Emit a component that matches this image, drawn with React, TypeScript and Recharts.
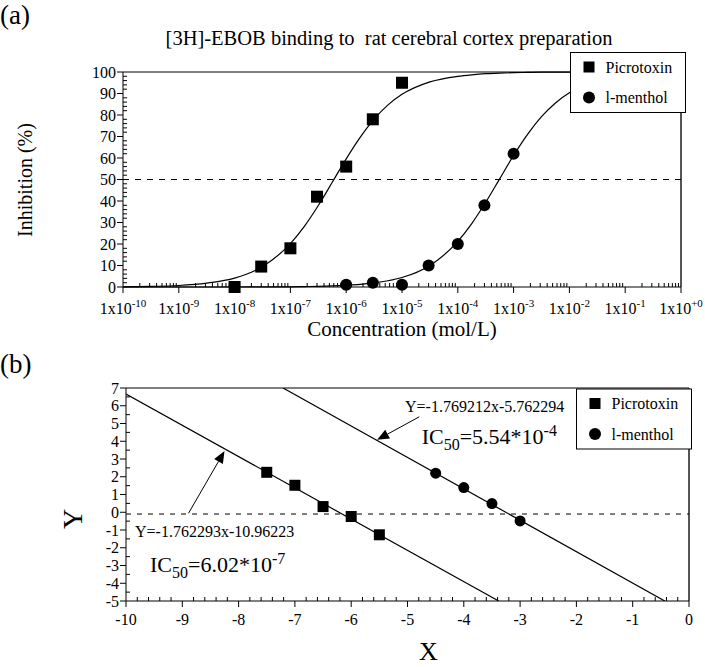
import React from "react";
import { ComposedChart, Line, Scatter, XAxis, YAxis, ReferenceLine } from "recharts";

const FONT = '"Liberation Serif", "Times New Roman", serif';

// (a) inhibition vs concentration
const picroConc = [1e-8, 3e-8, 1e-7, 3e-7, 1e-6, 3e-6, 1e-5];
const picroInh = [0, 9.5, 18, 42, 56, 78, 95];
const mentholConc = [1e-6, 3e-6, 1e-5, 3e-5, 1e-4, 3e-4, 1e-3];
const mentholInh = [1, 2, 1, 10, 20, 38, 62];

// fitted curves, read at these log10(concentration) positions
const curveExp = [-10, -9.5, -9, -8.5, -8, -7.5, -7, -6.75, -6.5, -6.25, -6, -5.75, -5.5, -5.25, -5, -4.5, -4, -3.75, -3.5, -3.25, -3, -2.75, -2.5, -2.25, -2, -1.5, -1, -0.5, 0];
const picroCurve = [0.1, 0.3, 0.7, 1.8, 4.1, 9.5, 20.2, 28.2, 37.9, 48.7, 59.6, 69.6, 78.1, 84.7, 89.6, 95.4, 98.0, 98.7, 99.2, 99.5, 99.7, 99.8, 99.9, 99.9, 99.9, 100, 100, 100, 100];
const mentholCurve = [0, 0, 0, 0, 0, 0.1, 0.1, 0.2, 0.3, 0.5, 0.8, 1.2, 1.9, 2.9, 4.4, 10.0, 21.2, 29.5, 39.4, 50.3, 61.2, 71.0, 79.2, 85.6, 90.3, 95.7, 98.2, 99.2, 99.7];

const concExpTicks = [-10, -9, -8, -7, -6, -5, -4, -3, -2, -1, 0];
const inhTicks = [0, 10, 20, 30, 40, 50, 60, 70, 80, 90, 100];

// (b) linearised plot
const picroX = [-7.5, -7, -6.5, -6, -5.5];
const picroY = [2.25, 1.52, 0.32, -0.24, -1.27];
const mentholX = [-4.5, -4, -3.5, -3];
const mentholY = [2.2, 1.39, 0.49, -0.49];
const picroFitX = [-10, -3.38];
const picroFitY = [6.66, -5];
const mentholFitX = [-7.21, -0.43];
const mentholFitY = [7, -5];
const bXTicks = [-10, -9, -8, -7, -6, -5, -4, -3, -2, -1, 0];
const bYTicks = [-5, -4, -3, -2, -1, 0, 1, 2, 3, 4, 5, 6, 7];

const zip = (xs: number[], ys: number[]) => xs.map((x, i) => ({ x, y: ys[i] }));

const picroPts = zip(picroConc, picroInh);
const mentholPts = zip(mentholConc, mentholInh);
const picroCurveData = zip(curveExp.map((e) => Math.pow(10, e)), picroCurve);
const mentholCurveData = zip(curveExp.map((e) => Math.pow(10, e)), mentholCurve);

const logMinor: number[] = [];
for (let e = -10; e < 0; e++) for (let k = 2; k <= 9; k++) logMinor.push(k * Math.pow(10, e));
const concTicks = [...concExpTicks.map((e) => Math.pow(10, e)), ...logMinor];

const inhMinor: number[] = [];
for (let v = 2; v < 100; v += 2) if (v % 10 !== 0) inhMinor.push(v);

const bXMinor: number[] = [];
for (let i = 0; i <= 50; i++) {
  const v = Math.round((-10 + i * 0.2) * 10) / 10;
  if (!Number.isInteger(v)) bXMinor.push(v);
}
const bYMinor = bYTicks.slice(0, -1).map((v) => v + 0.5);

const isInt = (v: number) => Math.abs(v - Math.round(v)) < 1e-6;

const LogTick = (props: any) => {
  const { x, y, payload } = props;
  const lg = Math.log10(payload.value);
  if (!isInt(lg)) return <line x1={x} x2={x} y1={y} y2={y - 4} stroke="#000" />;
  const e = Math.round(lg);
  return (
    <g>
      <line x1={x} x2={x} y1={y} y2={y + 6} stroke="#000" />
      <text x={x} y={y + 27} textAnchor="middle" fontSize={16} fontFamily={FONT} fill="#000">
        1x10<tspan fontSize={11} dy={-7}>{e === 0 ? "+0" : e}</tspan>
      </text>
    </g>
  );
};

const makeYTick = (major: (v: number) => boolean) => (props: any) => {
  const { x, y, payload } = props;
  if (!major(payload.value)) return <line x1={x} x2={x + 4} y1={y} y2={y} stroke="#000" />;
  return (
    <g>
      <line x1={x - 6} x2={x} y1={y} y2={y} stroke="#000" />
      <text x={x - 7} y={y} dy="0.35em" textAnchor="end" fontSize={16} fontFamily={FONT} fill="#000">
        {payload.value}
      </text>
    </g>
  );
};
const InhTick = makeYTick((v) => v % 10 === 0);
const BYTick = makeYTick(isInt);

const BXTick = (props: any) => {
  const { x, y, payload } = props;
  if (!isInt(payload.value)) return <line x1={x} x2={x} y1={y} y2={y - 4} stroke="#000" />;
  return (
    <g>
      <line x1={x} x2={x} y1={y} y2={y + 6} stroke="#000" />
      <text x={x} y={y + 24} textAnchor="middle" fontSize={16} fontFamily={FONT} fill="#000">
        {payload.value}
      </text>
    </g>
  );
};

const squareShape = (s: number) => (p: any) => <rect x={p.cx - s / 2} y={p.cy - s / 2} width={s} height={s} fill="#000" />;
const circleShape = (r: number) => (p: any) => <circle cx={p.cx} cy={p.cy} r={r} fill="#000" />;

const Arrow = (p: any) => {
  const { x1, y1, x2, y2 } = p;
  const a = Math.atan2(y2 - y1, x2 - x1);
  const L = 12;
  const W = 5;
  const bx = x2 - L * Math.cos(a);
  const by = y2 - L * Math.sin(a);
  const pts = `${x2},${y2} ${bx - W * Math.sin(a)},${by + W * Math.cos(a)} ${bx + W * Math.sin(a)},${by - W * Math.cos(a)}`;
  return (
    <g>
      <line x1={x1} y1={y1} x2={bx} y2={by} stroke="#000" strokeWidth={1} />
      <polygon points={pts} fill="#000" />
    </g>
  );
};

function PanelA() {
  return (
    <ComposedChart width={705} height={340} margin={{ top: 72, right: 24, left: 0, bottom: 0 }}>
      <XAxis
        dataKey="x"
        type="number"
        scale="log"
        domain={[1e-10, 1]}
        allowDataOverflow
        ticks={concTicks}
        interval={0}
        tick={LogTick}
        tickLine={false}
        tickSize={0}
        tickMargin={0}
        height={53}
        axisLine={{ stroke: "#000" }}
      />
      <YAxis
        dataKey="y"
        type="number"
        domain={[0, 100]}
        ticks={[...inhTicks, ...inhMinor]}
        interval={0}
        tick={InhTick}
        tickLine={false}
        tickSize={0}
        tickMargin={0}
        width={123}
        axisLine={{ stroke: "#000" }}
      />
      <ReferenceLine y={100} stroke="#000" />
      <ReferenceLine x={1} stroke="#555" strokeWidth={2} />
      <ReferenceLine y={50} stroke="#000" strokeDasharray="6 6" />
      <Line data={picroCurveData} dataKey="y" type="monotone" stroke="#000" strokeWidth={1.2} dot={false} activeDot={false} isAnimationActive={false} />
      <Line data={mentholCurveData} dataKey="y" type="monotone" stroke="#000" strokeWidth={1.2} dot={false} activeDot={false} isAnimationActive={false} />
      <Scatter data={picroPts} dataKey="y" shape={squareShape(12)} isAnimationActive={false} />
      <Scatter data={mentholPts} dataKey="y" shape={circleShape(6)} isAnimationActive={false} />
    </ComposedChart>
  );
}

function PanelB() {
  return (
    <ComposedChart width={705} height={327} margin={{ top: 48, right: 16, left: 0, bottom: 0 }}>
      <XAxis
        dataKey="x"
        type="number"
        domain={[-10, 0]}
        allowDataOverflow
        ticks={[...bXTicks, ...bXMinor]}
        interval={0}
        tick={BXTick}
        tickLine={false}
        tickSize={0}
        tickMargin={0}
        height={66}
        axisLine={{ stroke: "#000" }}
      />
      <YAxis
        dataKey="y"
        type="number"
        domain={[-5, 7]}
        allowDataOverflow
        ticks={[...bYTicks, ...bYMinor]}
        interval={0}
        tick={BYTick}
        tickLine={false}
        tickSize={0}
        tickMargin={0}
        width={126}
        axisLine={{ stroke: "#000" }}
      />
      <ReferenceLine y={7} stroke="#000" />
      <ReferenceLine x={0} stroke="#555" strokeWidth={2} />
      <ReferenceLine y={-0.1} stroke="#000" strokeDasharray="5 6" />
      <Line data={zip(picroFitX, picroFitY)} dataKey="y" type="linear" stroke="#000" strokeWidth={1.2} dot={false} activeDot={false} isAnimationActive={false} />
      <Line data={zip(mentholFitX, mentholFitY)} dataKey="y" type="linear" stroke="#000" strokeWidth={1.2} dot={false} activeDot={false} isAnimationActive={false} />
      <ReferenceLine segment={[{ x: -8.89, y: -0.06 }, { x: -8.25, y: 3.45 }]} shape={Arrow} />
      <ReferenceLine segment={[{ x: -4.79, y: 5.38 }, { x: -5.54, y: 4.08 }]} shape={Arrow} />
      <Scatter data={zip(picroX, picroY)} dataKey="y" shape={squareShape(11)} isAnimationActive={false} />
      <Scatter data={zip(mentholX, mentholY)} dataKey="y" shape={circleShape(5.5)} isAnimationActive={false} />
    </ComposedChart>
  );
}

function LegendBox({ x, y }: { x: number; y: number }) {
  return (
    <g>
      <rect x={x} y={y} width={115} height={60} fill="#fff" stroke="#000" />
      <rect x={x + 13} y={y + 9} width={11} height={11} fill="#000" />
      <text x={x + 35} y={y + 20} fontSize={16}>Picrotoxin</text>
      <circle cx={x + 18.5} cy={y + 45} r={6} fill="#000" />
      <text x={x + 35} y={y + 50.5} fontSize={16}>l-menthol</text>
    </g>
  );
}

export default function App() {
  return (
    <div style={{ position: "absolute", left: 0, top: 0, width: 705, height: 667, background: "#fff", fontFamily: FONT }}>
      <div style={{ position: "absolute", left: 0, top: 0 }}>
        <PanelA />
      </div>
      <div style={{ position: "absolute", left: 0, top: 340 }}>
        <PanelB />
      </div>
      <svg width={705} height={667} style={{ position: "absolute", left: 0, top: 0, pointerEvents: "none" }} fontFamily={FONT} fill="#000">
        <text x={0} y={24} fontSize={27}>(a)</text>
        <text x={389} y={45} fontSize={20.5} textAnchor="middle" style={{ whiteSpace: "pre" }}>
          [3H]-EBOB binding to  rat cerebral cortex preparation
        </text>
        <text transform="translate(32,180) rotate(-90)" textAnchor="middle" fontSize={20}>Inhibition (%)</text>
        <text x={402} y={336} textAnchor="middle" fontSize={21}>Concentration (mol/L)</text>
        <LegendBox x={570.5} y={52.5} />

        <text x={0} y={373} fontSize={27}>(b)</text>
        <text transform="translate(82,519) rotate(-90)" textAnchor="middle" fontSize={28}>Y</text>
        <text x={428.5} y={660} textAnchor="middle" fontSize={26}>X</text>
        <text x={405} y={412} fontSize={16}>Y=-1.769212x-5.762294</text>
        <text x={421.7} y={444} fontSize={22}>
          IC<tspan fontSize={16} dy={6}>50</tspan><tspan dy={-6}>=5.54*10</tspan><tspan fontSize={16} dy={-8}>-4</tspan>
        </text>
        <text x={135} y={537} fontSize={16}>Y=-1.762293x-10.96223</text>
        <text x={150} y={572} fontSize={22}>
          IC<tspan fontSize={16} dy={6}>50</tspan><tspan dy={-6}>=6.02*10</tspan><tspan fontSize={16} dy={-8}>-7</tspan>
        </text>
        <LegendBox x={576.5} y={389} />
      </svg>
    </div>
  );
}
